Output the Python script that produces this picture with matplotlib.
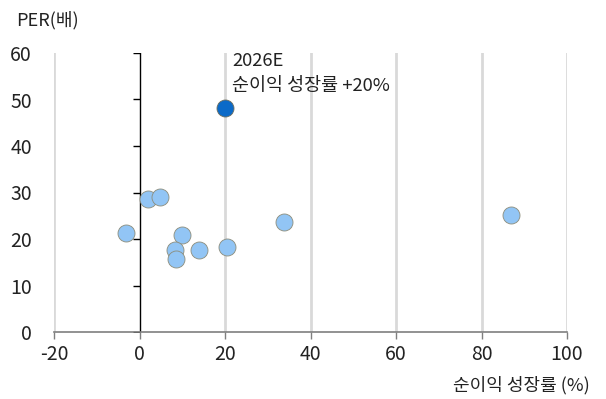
import numpy as np
import matplotlib.pyplot as plt

plt.rcParams['font.family'] = ['Noto Sans CJK KR', 'DejaVu Sans']

# 순이익 성장률(%) / PER(배)
growth = [2.0, 4.8, -3.2, 10.0, 8.4, 8.5, 13.9, 20.4, 33.9, 86.8]
per = [28.7, 29.1, 21.2, 20.8, 17.6, 15.8, 17.6, 18.3, 23.7, 25.2]
hl_growth = [20.0]
hl_per = [48.2]

xticks = [-20, 0, 20, 40, 60, 80, 100]
yticks = [0, 10, 20, 30, 40, 50, 60]

fig = plt.figure(figsize=(6.06, 3.99), dpi=100)
ax = fig.add_axes([54/606, 67/399, 513/606, 279/399])

for x in xticks:
    if x != 0:
        ax.axvline(x, color='#D9D9D9', lw=2, zorder=0)

ax.plot([0, 0], [0, 60], color='black', lw=1, zorder=1)
ax.plot([0] * len(yticks), yticks, ls='none', marker=0, ms=5, mew=1,
        color='black', zorder=1)

ax.scatter(growth, per, s=150, color='#92C5F5', edgecolors='#8C8C7A',
           linewidths=0.6, zorder=3)
ax.scatter(hl_growth, hl_per, s=150, color='#0B6AC8', edgecolors='#6E6E5E',
           linewidths=0.6, zorder=4)

ax.text(21.7, 58.3, '2026E', fontsize=13.3, va='center', ha='left', color='#222222')
ax.text(21.7, 53.0, '순이익 성장률 +20%', fontsize=13.3, va='center', ha='left',
        color='#222222')

ax.set_xlim(-20, 100)
ax.set_ylim(0, 60)
ax.set_xticks(xticks)
ax.set_xticklabels([str(t) for t in xticks])
ax.set_yticks(yticks)

for s in ['top', 'right', 'left']:
    ax.spines[s].set_visible(False)
ax.spines['bottom'].set_color('#7F7F7F')
ax.spines['bottom'].set_linewidth(1.2)
ax.tick_params(axis='x', direction='out', length=5, width=1, color='#7F7F7F',
               labelsize=14, labelcolor='#222222', pad=4)
ax.tick_params(axis='y', length=0, labelsize=14, labelcolor='#222222', pad=16)

fig.text(16/606, 1 - 20/399, 'PER(배)', fontsize=13, va='center', ha='left',
         color='#222222')
fig.text(590/606, 1 - 385/399, '순이익 성장률 (%)', fontsize=13, va='center',
         ha='right', color='#222222')

fig.savefig('out.png', dpi=100)
